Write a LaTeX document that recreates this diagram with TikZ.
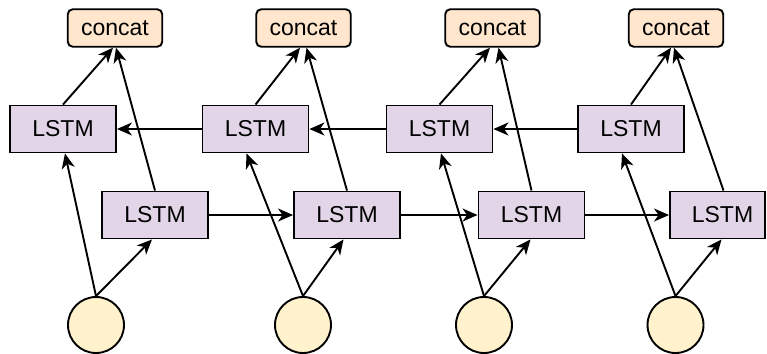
\documentclass[tikz,border=0pt]{standalone}
\usepackage{fontspec}
\setmainfont{Liberation Sans}
\usetikzlibrary{arrows.meta}
\definecolor{lstmfill}{HTML}{E1D5E7}
\definecolor{catfill}{HTML}{FFE6CC}
\definecolor{infill}{HTML}{FFF2CC}
\begin{document}
\begin{tikzpicture}[x=1pt,y=-1pt,
  lbl/.style={font=\fontsize{23}{27}\selectfont},
  lstm/.style={lbl,draw,line width=1.9pt,fill=lstmfill,minimum width=106pt,minimum height=47pt,inner sep=0pt},
  catbox/.style={lbl,draw,line width=1.9pt,fill=catfill,rounded corners=5pt,minimum width=94.5pt,minimum height=37.5pt,inner sep=0pt},
  inp/.style={circle,draw,line width=1.9pt,fill=infill,minimum size=56pt,inner sep=0pt},
  arr/.style={line width=1.9pt,-{Stealth[length=15pt,width=13pt,inset=4.5pt]}}]
\useasboundingbox (0,0) rectangle (767,353);

% output concatenation
\node[catbox] (c1) at (115,28) {concat};
\node[catbox] (c2) at (303.5,28) {concat};
\node[catbox] (c3) at (492.5,28) {concat};
\node[catbox] (c4) at (676,28) {concat};

% backward LSTM row
\node[lstm] (u1) at (63,129) {LSTM};
\node[lstm] (u2) at (255.5,129) {LSTM};
\node[lstm] (u3) at (439.5,129) {LSTM};
\node[lstm] (u4) at (631,129) {LSTM};

% forward LSTM row
\node[lstm] (d1) at (155,215) {LSTM};
\node[lstm] (d2) at (347,215) {LSTM};
\node[lstm] (d3) at (531.5,215) {LSTM};
\node[lstm,minimum width=95pt] (d4) at (717.5,215) {\hspace*{10pt}LSTM};

% inputs
\node[inp] (x1) at (96,325) {};
\node[inp] (x2) at (303,325) {};
\node[inp] (x3) at (484,325) {};
\node[inp] (x4) at (675.5,325) {};

% recurrent connections
\draw[arr] (u2.west) -- (u1.east);
\draw[arr] (u3.west) -- (u2.east);
\draw[arr] (u4.west) -- (u3.east);
\draw[arr] (d1.east) -- (d2.west);
\draw[arr] (d2.east) -- (d3.west);
\draw[arr] (d3.east) -- (d4.west);

% inputs to both directions
\draw[arr] (x1.north) -- ([xshift=2pt]u1.south);
\draw[arr] (x2.north) -- ([xshift=-9pt]u2.south);
\draw[arr] (x3.north) -- ([xshift=1.5pt]u3.south);
\draw[arr] (x4.north) -- ([xshift=-9pt]u4.south);
\draw[arr] (x1.north) -- ([xshift=-3pt]d1.south);
\draw[arr] (x2.north) -- ([xshift=-3.5pt]d2.south);
\draw[arr] (x3.north) -- ([xshift=-1pt]d3.south);
\draw[arr] (x4.north) -- ([xshift=4pt]d4.south);

% both directions into concat
\draw[arr] (u1.north) -- ([xshift=-2pt]c1.south);
\draw[arr] (u2.north) -- ([xshift=-3.5pt]c2.south);
\draw[arr] (u3.north) -- ([xshift=-2.5pt]c3.south);
\draw[arr] (u4.north) -- ([xshift=-5pt]c4.south);
\draw[arr] (d1.north) -- ([xshift=1pt]c1.south);
\draw[arr] (d2.north) -- ([xshift=3pt]c2.south);
\draw[arr] (d3.north) -- ([xshift=6pt]c3.south);
\draw[arr] ([xshift=6pt]d4.north) -- ([xshift=-2pt]c4.south);
\end{tikzpicture}
\end{document}
